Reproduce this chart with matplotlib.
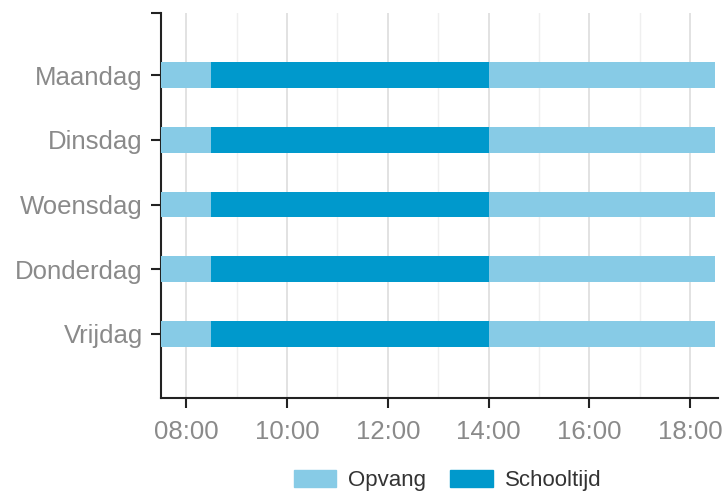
import numpy as np
import matplotlib.pyplot as plt
from matplotlib.patches import Patch
from matplotlib.ticker import FixedLocator

# ========== Data ==========
days = ["Maandag", "Dinsdag", "Woensdag", "Donderdag", "Vrijdag"]
day_start = [7.5, 7.5, 7.5, 7.5, 7.5]        # opvang begins
school_start = [8.5, 8.5, 8.5, 8.5, 8.5]
school_end = [14.0, 14.0, 14.0, 14.0, 14.0]
day_end = [18.5, 18.5, 18.5, 18.5, 18.5]     # opvang ends
hour_ticks = [8, 10, 12, 14, 16, 18]
hour_labels = ["08:00", "10:00", "12:00", "14:00", "16:00", "18:00"]

c_opvang = "#87CBE6"
c_school = "#0099CC"

plt.rcParams["font.family"] = ["Liberation Sans", "DejaVu Sans"]

fig = plt.figure(figsize=(7.23, 4.93), dpi=100)
ax = fig.add_axes([0.2227, 0.1927, 0.7703, 0.7809])

y = np.arange(len(days))
start = np.array(day_start)
s1 = np.array(school_start)
s2 = np.array(school_end)
end = np.array(day_end)

ax.barh(y, s1 - start, left=start, height=0.4, color=c_opvang, zorder=3)
ax.barh(y, s2 - s1, left=s1, height=0.4, color=c_school, zorder=3)
ax.barh(y, end - s2, left=s2, height=0.4, color=c_opvang, zorder=3)

ax.set_xlim(7.5, 18.55)
ytop = -0.96
ax.set_ylim(4.99, ytop)

ax.set_xticks(hour_ticks)
ax.set_xticklabels(hour_labels)
ax.xaxis.set_minor_locator(FixedLocator([9, 11, 13, 15, 17]))
ax.grid(True, axis="x", which="major", color="#dddddd", linewidth=1.2, zorder=0)
ax.grid(True, axis="x", which="minor", color="#efefef", linewidth=1.0, zorder=0)

ax.set_yticks(list(y) + [ytop])
ax.set_yticklabels(days + [""])

for side in ["top", "right"]:
    ax.spines[side].set_visible(False)
for side in ["left", "bottom"]:
    ax.spines[side].set_linewidth(1.5)
    ax.spines[side].set_color("#222222")

ax.tick_params(axis="both", which="major", length=7, width=1.5, color="#222222",
               labelsize=18.5, labelcolor="#8a8a8a", pad=6)
ax.tick_params(axis="x", which="major", pad=9)
ax.tick_params(axis="x", which="minor", length=0)

handles = [Patch(color=c_opvang, label="Opvang"), Patch(color=c_school, label="Schooltijd")]
fig.legend(handles=handles, loc="center", bbox_to_anchor=(0.619, 0.025), ncol=2,
           frameon=False, fontsize=16, handlelength=1.9, handleheight=0.75,
           columnspacing=1.1, handletextpad=0.55, labelcolor="#333333",
           borderpad=0, borderaxespad=0)

plt.savefig("out.png", dpi=100)
plt.close()
